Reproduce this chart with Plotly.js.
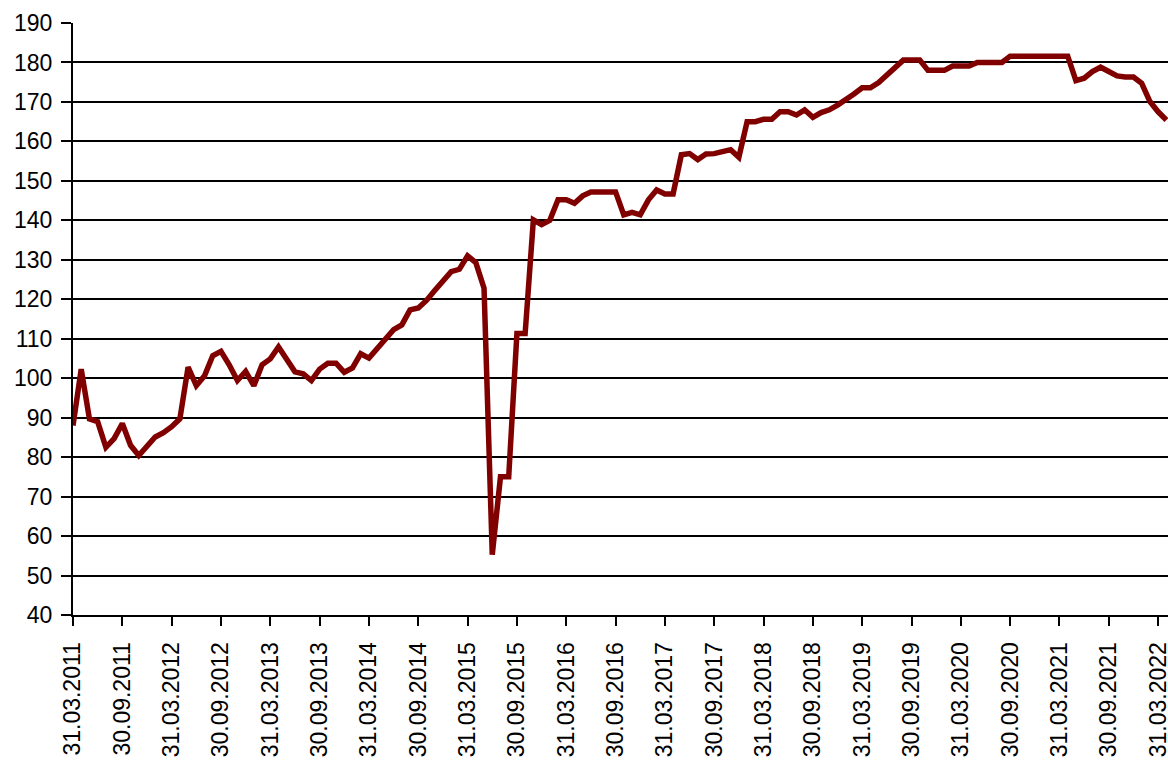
<!DOCTYPE html>
<html>
<head>
<meta charset="utf-8">
<script src="https://cdn.plot.ly/plotly-3.0.1.min.js"></script>
<style>html,body{margin:0;padding:0;background:#fff;}#chart{width:1168px;height:762px;}</style>
</head>
<body>
<div id="chart"></div>
<script>
// Monthly values, 31.03.2011 .. 30.04.2022
const values = [
  88, 102.3, 89.7, 89, 82.5, 84.7, 88.5, 83, 80.4, 83, 85.1, 86.2,
  87.7, 89.7, 102.8, 98.1, 100.6, 105.7, 106.8, 103.4, 99.4, 101.7, 98.1, 103.4,
  104.9, 107.9, 104.9, 101.6, 101.1, 99.4, 102.3, 103.8, 103.8, 101.5, 102.6, 106.2,
  105.1, 107.6, 110.2, 112.3, 113.5, 117.3, 117.8, 119.7, 122.2, 124.8, 127, 127.6,
  131, 129.3, 122.8, 55.3, 75, 75, 111.3, 111.3, 140.1, 138.9, 140, 145.2,
  145.2, 144.3, 146.2, 147.2, 147.2, 147.2, 147.2, 141.4, 142, 141.4, 145.2, 147.7,
  146.7, 146.7, 156.6, 156.9, 155.4, 156.8, 156.9, 157.4, 157.9, 156, 165, 165,
  165.6, 165.6, 167.5, 167.5, 166.7, 168, 166.1, 167.3, 168, 169.2, 170.5, 172,
  173.6, 173.6, 174.9, 176.8, 178.5, 180.6, 180.6, 180.6, 178, 178, 178, 179.1,
  179.1, 179.1, 180, 180, 180, 180, 181.6, 181.6, 181.6, 181.6, 181.6, 181.6,
  181.6, 181.6, 175.4, 176, 177.7, 178.8, 177.7, 176.6, 176.3, 176.3, 174.7, 170.1,
  167.5, 165.4
];

const tickLabels = [
  "31.03.2011","30.09.2011","31.03.2012","30.09.2012","31.03.2013","30.09.2013",
  "31.03.2014","30.09.2014","31.03.2015","30.09.2015","31.03.2016","30.09.2016",
  "31.03.2017","30.09.2017","31.03.2018","30.09.2018","31.03.2019","30.09.2019",
  "31.03.2020","30.09.2020","31.03.2021","30.09.2021","31.03.2022"
];

const yTicks = [40,50,60,70,80,90,100,110,120,130,140,150,160,170,180,190];

// month-end date labels for each monthly observation
const dates = [];
for (let k = 0; k < values.length; k++) {
  const m = 2 + k; // March 2011 = month index 2
  const y = 2011 + Math.floor(m / 12);
  const mon = m % 12;
  const last = new Date(Date.UTC(y, mon + 1, 0)).getUTCDate();
  dates.push(String(last).padStart(2, "0") + "." + String(mon + 1).padStart(2, "0") + "." + y);
}

const font = {family: "Liberation Sans, Arial, sans-serif", size: 23, color: "#000"};

Plotly.newPlot("chart", [{
  x: dates,
  y: values,
  type: "scatter",
  mode: "lines",
  line: {color: "#800000", width: 5.5},
  hoverinfo: "skip"
}], {
  width: 1168, height: 762,
  margin: {l: 73, r: 0, t: 23, b: 147},
  paper_bgcolor: "#fff", plot_bgcolor: "#fff",
  showlegend: false,
  font: font,
  xaxis: {
    type: "category",
    range: [0, 133.2],
    tickmode: "array",
    tickvals: tickLabels,
    ticktext: tickLabels,
    tickangle: -90,
    ticks: "outside", ticklen: 9, tickwidth: 2, tickcolor: "#000",
    ticklabelstandoff: 7,
    showline: true, linecolor: "#000", linewidth: 2,
    showgrid: false, zeroline: false,
    tickfont: font
  },
  yaxis: {
    range: [40, 190],
    tickmode: "array",
    tickvals: yTicks,
    ticks: "outside", ticklen: 10, tickwidth: 2, tickcolor: "#000",
    ticklabelstandoff: 4,
    showline: true, linecolor: "#000", linewidth: 2,
    showgrid: true, gridcolor: "#000", gridwidth: 2,
    zeroline: false,
    tickfont: font
  }
}, {staticPlot: true, displayModeBar: false});
</script>
</body>
</html>
